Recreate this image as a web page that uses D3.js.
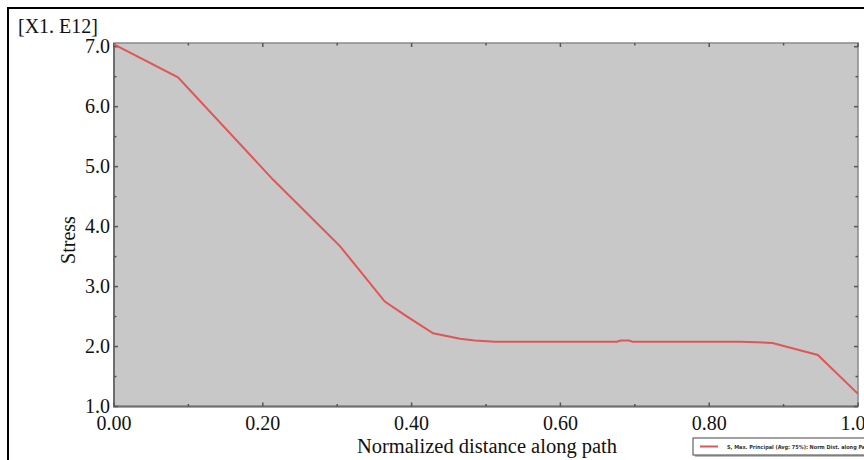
<!DOCTYPE html>
<html>
<head>
<meta charset="utf-8">
<script src="https://cdn.jsdelivr.net/npm/d3@7"></script>
<style>
  body { margin: 0; background: #fff; }
  svg text { font-family: "Liberation Serif", "DejaVu Serif", serif; fill: #111; }
</style>
</head>
<body>
<div id="chart"></div>
<script>
// path data (normalized distance, stress in 1e12)
var distance = [0.000, 0.086, 0.214, 0.304, 0.364, 0.394, 0.429, 0.465, 0.485, 0.512, 0.676, 0.681, 0.692, 0.697, 0.843, 0.885, 0.946, 1.000];
var stress   = [7.04,  6.49,  4.78,  3.67,  2.75,  2.50,  2.22,  2.13,  2.10,  2.08,  2.08,  2.10,  2.10,  2.08,  2.08,  2.06,  1.86,  1.21];
var xTicks = [0, 0.2, 0.4, 0.6, 0.8, 1.0];
var yTicks = [1, 2, 3, 4, 5, 6, 7];
var legendText = "S, Max. Principal (Avg: 75%): Norm Dist. along Path-1";

var W = 864, H = 460;
var plot = {left: 114, right: 858, top: 43, bottom: 406.5};

var svg = d3.select("#chart").append("svg")
  .attr("width", W).attr("height", H);

// outer frame (only top and left show in the picture)
svg.append("path")
  .attr("d", "M8,470V8H880")
  .attr("fill", "none").attr("stroke", "#000").attr("stroke-width", 2);

var x = d3.scaleLinear().domain([0, 1]).range([plot.left, plot.right]);
var y = d3.scaleLinear().domain([1, 7]).range([plot.bottom, 46.7]);

// plot background
svg.append("rect")
  .attr("x", plot.left).attr("y", plot.top)
  .attr("width", plot.right - plot.left).attr("height", plot.bottom - plot.top)
  .attr("fill", "#c8c8c8").attr("stroke", "#8a8a8a").attr("stroke-width", 1.5);
// darker left and bottom edge
svg.append("path")
  .attr("d", "M" + plot.left + "," + plot.top + "V" + plot.bottom + "H" + plot.right)
  .attr("fill", "none").attr("stroke", "#6e6e6e").attr("stroke-width", 2);

// tick marks on all four sides, pointing inward
var g = svg.append("g").attr("stroke", "#555").attr("stroke-width", 1.5);
var xMinor = d3.range(0, 1.001, 0.1);
var yMinor = d3.range(1, 7.001, 0.5);
xMinor.forEach(function(v, i) {
  var len = (i % 2 == 0) ? 4 : 2.5;
  g.append("line").attr("x1", x(v)).attr("x2", x(v)).attr("y1", plot.bottom).attr("y2", plot.bottom - len);
  g.append("line").attr("x1", x(v)).attr("x2", x(v)).attr("y1", plot.top).attr("y2", plot.top + len);
});
yMinor.forEach(function(v, i) {
  var len = (i % 2 == 0) ? 4 : 2.5;
  g.append("line").attr("y1", y(v)).attr("y2", y(v)).attr("x1", plot.left).attr("x2", plot.left + len);
  g.append("line").attr("y1", y(v)).attr("y2", y(v)).attr("x1", plot.right).attr("x2", plot.right - len);
});

// tick labels
svg.selectAll(".xl").data(xTicks).enter().append("text")
  .attr("x", function(d) { return x(d); })
  .attr("y", 430)
  .attr("text-anchor", "middle")
  .attr("font-size", 20)
  .text(function(d) { return d.toFixed(2); });

svg.selectAll(".yl").data(yTicks).enter().append("text")
  .attr("x", 110)
  .attr("y", function(d) { return y(d) + 6.5; })
  .attr("text-anchor", "end")
  .attr("font-size", 20)
  .text(function(d) { return d.toFixed(1); });

// axis titles
svg.append("text").attr("x", 18).attr("y", 33).attr("font-size", 20).text("[X1. E12]");
svg.append("text")
  .attr("transform", "translate(75,240) rotate(-90)")
  .attr("text-anchor", "middle").attr("font-size", 20)
  .text("Stress");
svg.append("text")
  .attr("x", 487).attr("y", 453)
  .attr("text-anchor", "middle").attr("font-size", 20.5)
  .text("Normalized distance along path");

// the stress curve
var pts = distance.map(function(d, i) { return [d, stress[i]]; });
var line = d3.line().x(function(d) { return x(d[0]); }).y(function(d) { return y(d[1]); });
svg.append("path").datum(pts)
  .attr("d", line)
  .attr("fill", "none").attr("stroke", "#e05555").attr("stroke-width", 2);

// legend
var lg = svg.append("g");
lg.append("rect").attr("x", 695).attr("y", 440).attr("width", 200).attr("height", 17)
  .attr("fill", "#bbb");
lg.append("rect").attr("x", 693).attr("y", 438).attr("width", 200).attr("height", 17)
  .attr("fill", "#fff").attr("stroke", "#444").attr("stroke-width", 1);
lg.append("line").attr("x1", 700).attr("x2", 718).attr("y1", 446.5).attr("y2", 446.5)
  .attr("stroke", "#e05555").attr("stroke-width", 2);
lg.append("text").attr("x", 727).attr("y", 448.5)
  .style("font-family", "'DejaVu Sans Condensed', 'DejaVu Sans', sans-serif")
  .style("font-size", "5.5px").style("font-weight", "bold").style("fill", "#333")
  .text(legendText);
</script>
</body>
</html>
